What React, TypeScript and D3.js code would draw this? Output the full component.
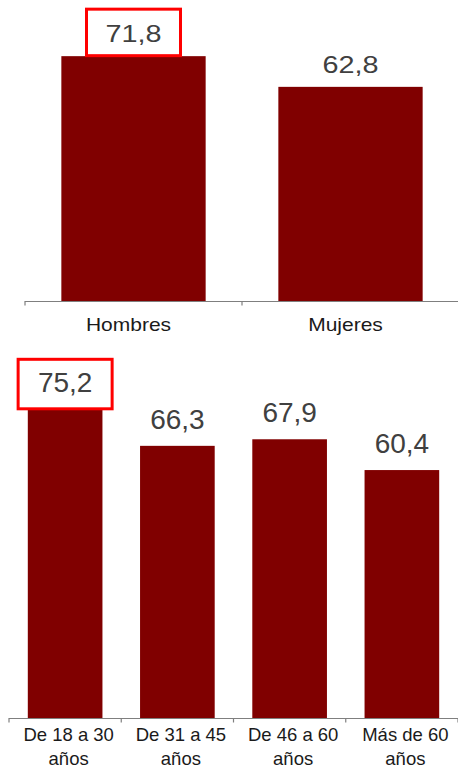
import React from "react";
import * as d3 from "d3";

const sexCategories = ["Hombres", "Mujeres"];
const sexValues = [71.8, 62.8];
const sexLabels = ["71,8", "62,8"];

const ageCategories = ["De 18 a 30|años", "De 31 a 45|años", "De 46 a 60|años", "Más de 60|años"];
const ageValues = [75.2, 66.3, 67.9, 60.4];
const ageLabels = ["75,2", "66,3", "67,9", "60,4"];

const BAR = "#800000";
const AXIS = "#7f7f7f";
const VAL = "#404040";
const CAT = "#1a1a1a";
const FONT = "'Liberation Sans', Arial, Helvetica, sans-serif";

type PanelProps = {
  cats: string[];
  vals: number[];
  labels: string[];
  x0: number;
  x1: number;
  yBase: number;
  pxPerUnit: number;
  valFont: number;
  valGap: number;
  catFont: number;
  catGap: number;
  catDx: number;
  sx: number;
  highlight: number;
  boxW: number;
  boxH: number;
};

function Panel(p: PanelProps) {
  const pad = 0.335;
  const x = d3
    .scaleBand<string>()
    .domain(p.cats)
    .range([p.x0, p.x1])
    .paddingInner(pad)
    .paddingOuter(pad / 2);
  const y = d3
    .scaleLinear()
    .domain([0, 80])
    .range([p.yBase, p.yBase - p.pxPerUnit * 80]);
  const step = x.step();
  const bounds = d3.range(p.cats.length + 1).map((i) => p.x0 + i * step);
  return (
    <g>
      {p.cats.map((c, i) => {
        const cx = (x(c) as number) + x.bandwidth() / 2;
        return (
          <rect
            key={"b" + i}
            x={x(c)}
            y={y(p.vals[i])}
            width={x.bandwidth()}
            height={y(0) - y(p.vals[i])}
            fill={BAR}
          />
        );
      })}
      <line x1={p.x0} x2={p.x1} y1={p.yBase + 0.5} y2={p.yBase + 0.5} stroke={AXIS} strokeWidth={1.2} />
      {bounds.map((bx, i) => (
        <line key={"t" + i} x1={bx} x2={bx} y1={p.yBase} y2={p.yBase + 4.5} stroke={AXIS} strokeWidth={1.2} />
      ))}
      {p.cats.map((c, i) => {
        const cx = (x(c) as number) + x.bandwidth() / 2;
        const top = y(p.vals[i]);
        const hl = i === p.highlight;
        return (
          <g key={"l" + i}>
            {hl && (
              <rect
                x={cx - p.boxW / 2}
                y={top - p.boxH + 1}
                width={p.boxW}
                height={p.boxH - 1.5}
                fill="#ffffff"
                stroke="#ff0000"
                strokeWidth={3}
              />
            )}
            <text
              transform={`translate(${cx},${top - p.valGap}) scale(${p.sx},1)`}
              textAnchor="middle"
              fontFamily={FONT}
              fontSize={p.valFont}
              fill={VAL}
            >
              {p.labels[i]}
            </text>
            {c.split("|").map((line, j) => (
              <text
                key={j}
                transform={`translate(${cx + p.catDx},${p.yBase + p.catGap + j * 24}) scale(${p.sx},1)`}
                textAnchor="middle"
                fontFamily={FONT}
                fontSize={p.catFont}
                fill={CAT}
              >
                {line}
              </text>
            ))}
          </g>
        );
      })}
    </g>
  );
}

export default function App() {
  return (
    <svg
      width={458}
      height={768}
      viewBox="0 0 458 768"
      style={{ position: "absolute", left: 0, top: 0, background: "#ffffff" }}
    >
      <rect x={0} y={0} width={458} height={768} fill="#ffffff" />
      <Panel
        cats={sexCategories}
        vals={sexValues}
        labels={sexLabels}
        x0={25}
        x1={459}
        yBase={301}
        pxPerUnit={3.41}
        valFont={24}
        valGap={14}
        catFont={17.5}
        catGap={30}
        catDx={-5}
        sx={1.2}
        highlight={0}
        boxW={94}
        boxH={48}
      />
      <Panel
        cats={ageCategories}
        vals={ageValues}
        labels={ageLabels}
        x0={9}
        x1={458}
        yBase={718}
        pxPerUnit={4.105}
        valFont={28}
        valGap={17}
        catFont={18.5}
        catGap={23}
        catDx={3.5}
        sx={1}
        highlight={0}
        boxW={94}
        boxH={51}
      />
    </svg>
  );
}
